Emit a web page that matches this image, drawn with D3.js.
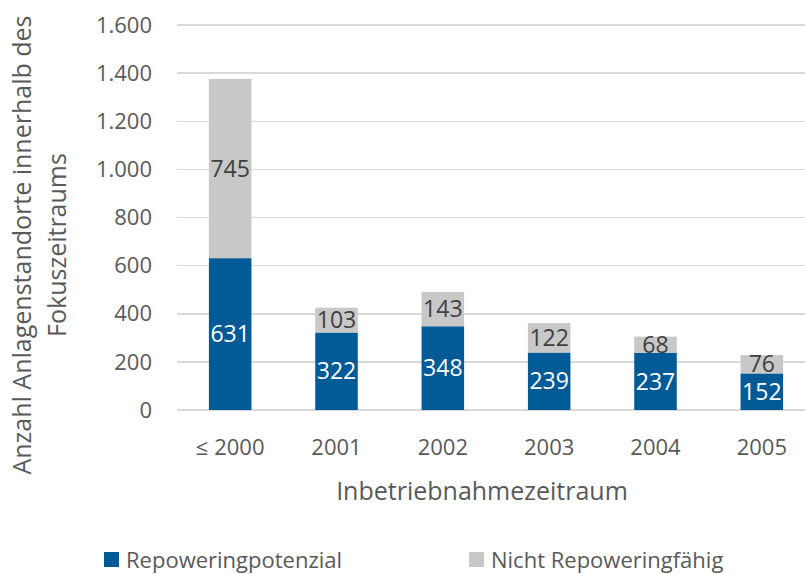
<!DOCTYPE html>
<meta charset="utf-8">
<style>
    body { margin: 0; background: #fff; }
    svg { font-family: "Open Sans", sans-serif; }
    .grid line { stroke: #d9d9d9; stroke-width: 1.5; shape-rendering: crispEdges; }
    .tick-label { fill: #595959; font-size: 22px; }
    .title { fill: #595959; font-size: 25px; }
</style>
<body>
<script src="https://cdn.jsdelivr.net/npm/d3@7"></script>
<script>
    const categories = ["≤ 2000", "2001", "2002", "2003", "2004", "2005"];
    const repowering = [631, 322, 348, 239, 237, 152];
    const nichtRepowering = [745, 103, 143, 122, 68, 76];
    const yTicks = [0, 200, 400, 600, 800, 1000, 1200, 1400, 1600];
    const seriesNames = ["Repoweringpotenzial", "Nicht Repoweringfähig"];
    const colors = ["#005a96", "#c8c8c8"];

    const width = 805, height = 574;
    const svg = d3.select("body").append("svg")
        .attr("width", width)
        .attr("height", height);

    const x = d3.scaleBand().domain(categories).range([177, 815]).paddingInner(0.6).paddingOuter(0.3);
    const y = d3.scaleLinear().domain([0, 1600]).range([410, 25]);

    const fmt = d3.formatLocale({decimal: ",", thousands: ".", grouping: [3], currency: ["", " €"]}).format(",d");

    // gridlines
    svg.append("g").attr("class", "grid")
        .selectAll("line").data(yTicks).enter().append("line")
        .attr("x1", 177).attr("x2", 815)
        .attr("y1", d => y(d)).attr("y2", d => y(d));

    // y tick labels
    svg.append("g").selectAll("text").data(yTicks).enter().append("text")
        .attr("class", "tick-label")
        .attr("x", 152).attr("y", d => y(d)).attr("dy", "0.35em")
        .style("text-anchor", "end")
        .text(d => fmt(d));

    // stacked bars
    const rows = categories.map((c, i) => ({cat: c, a: repowering[i], b: nichtRepowering[i]}));
    const bars = svg.append("g").selectAll("g").data(rows).enter().append("g");

    bars.append("rect")
        .attr("x", d => x(d.cat)).attr("width", x.bandwidth())
        .attr("y", d => y(d.a)).attr("height", d => y(0) - y(d.a))
        .style("fill", colors[0]);
    bars.append("rect")
        .attr("x", d => x(d.cat)).attr("width", x.bandwidth())
        .attr("y", d => y(d.a + d.b)).attr("height", d => y(d.a) - y(d.a + d.b))
        .style("fill", colors[1]);

    bars.append("text")
        .attr("x", d => x(d.cat) + x.bandwidth() / 2)
        .attr("y", d => y(d.a / 2)).attr("dy", "0.35em")
        .style("text-anchor", "middle").style("font-size", "23px").style("fill", "#fff")
        .text(d => d.a);
    bars.append("text")
        .attr("x", d => x(d.cat) + x.bandwidth() / 2)
        .attr("y", d => y(d.a + d.b / 2)).attr("dy", "0.35em")
        .style("text-anchor", "middle").style("font-size", "23px").style("fill", "#404040")
        .text(d => d.b);

    // x tick labels
    svg.append("g").selectAll("text").data(categories).enter().append("text")
        .attr("class", "tick-label")
        .attr("x", d => x(d) + x.bandwidth() / 2).attr("y", 455)
        .style("text-anchor", "middle")
        .text(d => d);

    // axis titles
    svg.append("text").attr("class", "title")
        .attr("x", 482).attr("y", 500)
        .style("text-anchor", "middle")
        .text("Inbetriebnahmezeitraum");

    const yTitle = svg.append("text").attr("class", "title")
        .attr("transform", "translate(0,245) rotate(-90)")
        .style("text-anchor", "middle");
    yTitle.append("tspan").attr("x", 0).attr("y", 31).text("Anzahl Anlagenstandorte innerhalb des");
    yTitle.append("tspan").attr("x", 0).attr("y", 66).text("Fokuszeitraums");

    // legend
    const legendX = [104, 469];
    const legend = svg.append("g").selectAll("g").data(seriesNames).enter().append("g")
        .attr("transform", (d, i) => "translate(" + legendX[i] + ",552)");
    legend.append("rect").attr("width", 15).attr("height", 15)
        .style("fill", (d, i) => colors[i]);
    legend.append("text").attr("class", "tick-label")
        .attr("x", 22).attr("y", 8).attr("dy", "0.35em")
        .text(d => d);
</script>
</body>
